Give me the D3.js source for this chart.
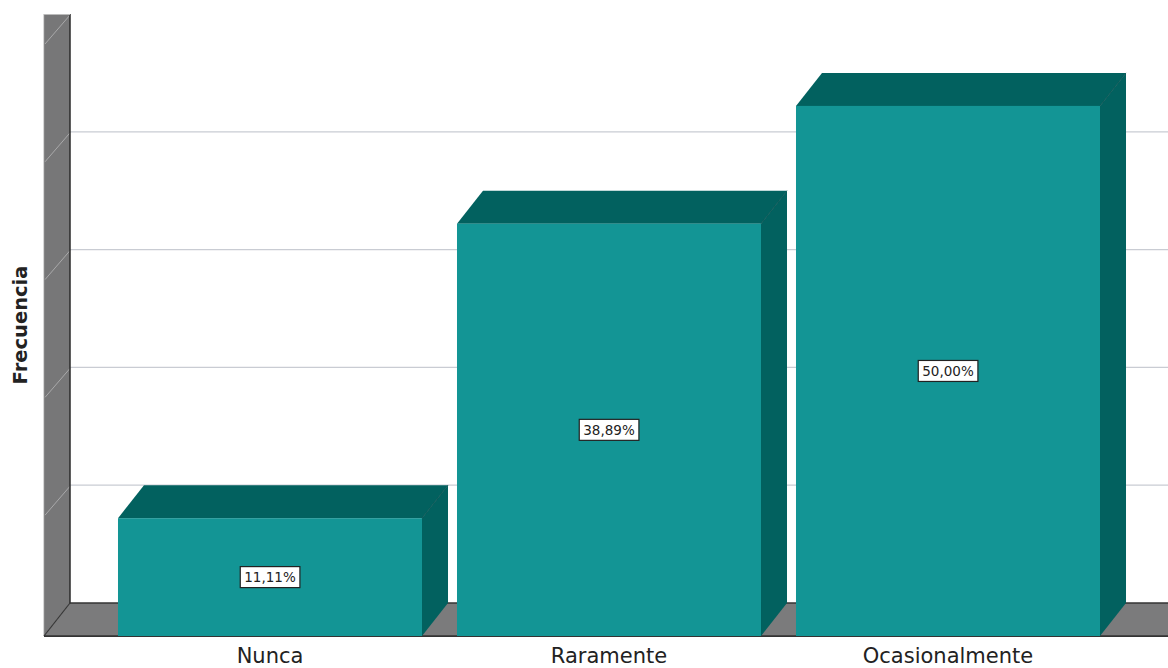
<!DOCTYPE html>
<html>
<head>
<meta charset="utf-8">
<script src="https://cdn.jsdelivr.net/npm/d3@7"></script>
<style>
html,body{margin:0;padding:0;background:#fff;}
svg{display:block;}
</style>
</head>
<body>
<svg id="chart" width="1168" height="668"></svg>
<script>
const categories = ["Nunca", "Raramente", "Ocasionalmente"];
const frequencies = [2, 7, 9];
const percentLabels = ["11,11%", "38,89%", "50,00%"];
const gridValues = [2, 4, 6, 8, 10];
const yTitle = "Frecuencia";

const W = 1168, H = 668;
const svg = d3.select("#chart");
const depthX = 26, depthY = 33;
const backFloor = 603, wallTop = 14;
const wallFrontX = 44, wallBackX = wallFrontX + depthX;

const y = d3.scaleLinear().domain([0, 10]).range([backFloor, wallTop]);
const x = d3.scaleBand().domain(categories).range([100.5, 1117.5]).paddingInner(0.1032).paddingOuter(0.0516);

const wallColor = "#777778", floorColor = "#7b7b7c";
const frontColor = "#139595", darkColor = "#02615f";
const font = "'DejaVu Sans', 'Noto Sans', sans-serif";

// wall
svg.append("path")
  .attr("d", `M${wallFrontX},${wallTop} L${wallBackX},${wallTop} L${wallBackX},${backFloor} L${wallFrontX},${backFloor + depthY} Z`)
  .attr("fill", wallColor);
// floor
svg.append("path")
  .attr("d", `M${wallFrontX},${backFloor + depthY} L${wallBackX},${backFloor} L${W + 5},${backFloor} L${W + 5},${backFloor + depthY} Z`)
  .attr("fill", floorColor);

// gridlines
gridValues.forEach(v => {
  if (v < 10) {
    svg.append("line")
      .attr("x1", wallBackX).attr("x2", W)
      .attr("y1", y(v)).attr("y2", y(v))
      .attr("stroke", "#c9ccd3").attr("stroke-width", 1.2);
  }
  svg.append("line")
    .attr("x1", wallBackX).attr("y1", y(v) + 1)
    .attr("x2", wallFrontX + 1).attr("y2", y(v) + depthY - 3)
    .attr("stroke", "#a9a9aa").attr("stroke-width", 1);
});

// wall/floor edges
svg.append("line").attr("x1", wallBackX).attr("x2", wallBackX).attr("y1", wallTop).attr("y2", backFloor)
  .attr("stroke", "#2a2a2a").attr("stroke-width", 1.5);
svg.append("line").attr("x1", wallFrontX).attr("x2", wallFrontX).attr("y1", wallTop).attr("y2", backFloor + depthY)
  .attr("stroke", "#9a9a9a").attr("stroke-width", 0.8);
svg.append("line").attr("x1", wallBackX).attr("x2", W).attr("y1", backFloor).attr("y2", backFloor)
  .attr("stroke", "#333").attr("stroke-width", 1.5);
svg.append("line").attr("x1", wallBackX).attr("y1", backFloor).attr("x2", wallFrontX).attr("y2", backFloor + depthY)
  .attr("stroke", "#333").attr("stroke-width", 1.2);
svg.append("line").attr("x1", wallFrontX).attr("x2", W).attr("y1", backFloor + depthY).attr("y2", backFloor + depthY)
  .attr("stroke", "#333").attr("stroke-width", 1.5);
svg.append("line").attr("x1", wallFrontX).attr("x2", wallBackX).attr("y1", wallTop + 0.5).attr("y2", wallTop + 0.5)
  .attr("stroke", "#bbb").attr("stroke-width", 1);

// bars
const bars = svg.append("g");
categories.forEach((c, i) => {
  const v = frequencies[i];
  const x0 = x(c), x1 = x(c) + x.bandwidth();
  const yb = y(v);
  const yf = yb + depthY;
  const bottom = backFloor + depthY;
  const g = bars.append("g");
  g.append("path")
    .attr("d", `M${x1},${yf} L${x1 + depthX},${yb} L${x1 + depthX},${backFloor} L${x1},${bottom} Z`)
    .attr("fill", darkColor);
  g.append("path")
    .attr("d", `M${x0},${yf} L${x0 + depthX},${yb} L${x1 + depthX},${yb} L${x1},${yf} Z`)
    .attr("fill", darkColor);
  g.append("line").attr("x1", x1).attr("y1", yf).attr("x2", x1 + depthX).attr("y2", yb)
    .attr("stroke", "#0a5250").attr("stroke-width", 0.8);
  g.append("rect").attr("x", x0).attr("y", yf).attr("width", x.bandwidth()).attr("height", bottom - yf)
    .attr("fill", frontColor);
  const cx = (x0 + x1) / 2, cy = (yf + bottom) / 2;
  const box = g.append("rect");
  const t = g.append("text").attr("x", cx).attr("y", cy)
    .attr("text-anchor", "middle").attr("dominant-baseline", "central")
    .attr("font-family", font).attr("font-size", 13.5)
    .attr("fill", "#222").text(percentLabels[i]);
  const bb = t.node().getBBox();
  box.attr("x", bb.x - 4).attr("y", cy - 10.5).attr("width", bb.width + 8).attr("height", 21)
    .attr("fill", "#fff").attr("stroke", "#222").attr("stroke-width", 1.2);
});
svg.append("line").attr("x1", wallFrontX).attr("x2", W).attr("y1", backFloor + depthY + 0.5).attr("y2", backFloor + depthY + 0.5)
  .attr("stroke", "#333").attr("stroke-width", 1.2);

// x labels
svg.append("g").selectAll("text").data(categories).join("text")
  .attr("x", d => x(d) + x.bandwidth() / 2)
  .attr("y", 663)
  .attr("text-anchor", "middle")
  .attr("font-family", font).attr("font-size", 21)
  .attr("fill", "#222").text(d => d);

// y title
svg.append("text")
  .attr("transform", `translate(20,${(wallTop + backFloor + depthY) / 2}) rotate(-90)`)
  .attr("text-anchor", "middle").attr("dominant-baseline", "central")
  .attr("font-family", font).attr("font-size", 19.5).attr("font-weight", "bold")
  .attr("fill", "#222").text(yTitle);
</script>
</body>
</html>
